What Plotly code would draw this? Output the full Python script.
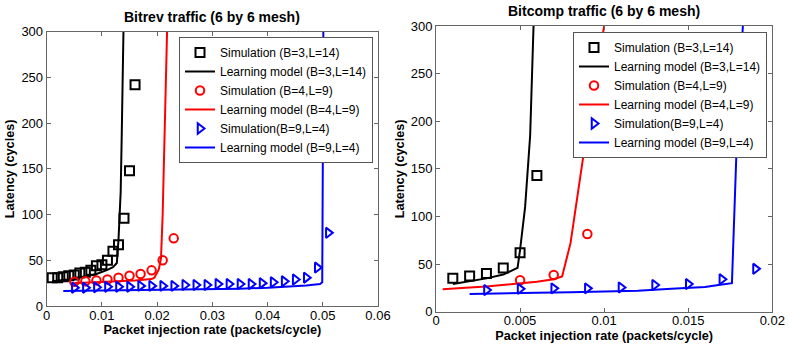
import plotly.graph_objects as go

# ---------------- Bitrev traffic (left) ----------------
bitrev_sim_b3_x = [0.001, 0.002, 0.003, 0.004, 0.005, 0.006, 0.007, 0.008, 0.009, 0.010, 0.011, 0.012, 0.013, 0.014, 0.015, 0.016]
bitrev_sim_b3_y = [31, 31, 32, 33, 34, 36, 37, 39, 44, 45, 50, 60, 67, 96, 148, 242]
bitrev_mod_b3_x = [0.001, 0.002, 0.003, 0.004, 0.005, 0.006, 0.007, 0.008, 0.009, 0.010, 0.011, 0.012, 0.0127, 0.0130, 0.0134, 0.0136, 0.0139]
bitrev_mod_b3_y = [27, 28, 28.5, 29, 30, 31, 32, 33.5, 35, 37, 39.5, 42.5, 47, 72, 125, 190, 300]

bitrev_sim_b4_x = [0.005, 0.007, 0.009, 0.011, 0.013, 0.015, 0.017, 0.019, 0.021, 0.023, 0.025]
bitrev_sim_b4_y = [26.5, 27, 28, 29, 31, 33, 35, 39, 50, 74, 231]
bitrev_mod_b4_x = [0.0045, 0.007, 0.010, 0.013, 0.016, 0.019, 0.0195, 0.0203, 0.0207, 0.0210, 0.0214, 0.0218]
bitrev_mod_b4_y = [25, 25.5, 26, 27, 28, 29.5, 31, 40, 52, 100, 200, 300]

bitrev_sim_b9_x = [0.005, 0.007, 0.009, 0.011, 0.013, 0.015, 0.017, 0.019, 0.021, 0.023, 0.025, 0.027,
                   0.029, 0.031, 0.033, 0.035, 0.037, 0.039, 0.041, 0.043, 0.045, 0.047, 0.049, 0.051]
bitrev_sim_b9_y = [20, 20, 20.5, 21, 21, 21, 22, 22, 22, 22, 23, 23,
                   23, 24, 24, 24, 24, 25, 26, 27, 29, 31, 42, 80]
bitrev_mod_b9_x = [0.003, 0.010, 0.020, 0.030, 0.035, 0.040, 0.043, 0.047, 0.0495, 0.0499, 0.0500, 0.0501]
bitrev_mod_b9_y = [16.5, 17, 18, 18.5, 19, 20, 21, 22.5, 24, 26, 150, 300]

# ---------------- Bitcomp traffic (right) ----------------
bitcomp_sim_b3_x = [0.001, 0.002, 0.003, 0.004, 0.005, 0.006]
bitcomp_sim_b3_y = [35, 37.5, 40, 46, 62, 143]
bitcomp_mod_b3_x = [0.001, 0.002, 0.003, 0.004, 0.00485, 0.0050, 0.0053, 0.0056, 0.0058]
bitcomp_mod_b3_y = [29, 32, 35, 39, 46, 65, 110, 185, 300]

bitcomp_sim_b4_x = [0.005, 0.007, 0.009]
bitcomp_sim_b4_y = [33, 38.5, 81.5]
bitcomp_mod_b4_x = [0.0004, 0.001, 0.002, 0.003, 0.004, 0.005, 0.006, 0.007, 0.0075, 0.008, 0.0089, 0.0100]
bitcomp_mod_b4_y = [23.5, 24, 25.5, 26.5, 28, 29.5, 31.5, 34, 37, 72, 180, 300]

bitcomp_sim_b9_x = [0.003, 0.005, 0.007, 0.009, 0.011, 0.013, 0.015, 0.017, 0.019]
bitcomp_sim_b9_y = [22.7, 24, 24.5, 24.5, 25.5, 28, 29, 34, 45]
bitcomp_mod_b9_x = [0.002, 0.004, 0.006, 0.008, 0.010, 0.012, 0.014, 0.016, 0.0168, 0.0176, 0.0179, 0.01825]
bitcomp_mod_b9_y = [18.5, 19.5, 20, 20.5, 21, 22, 24, 26, 28, 30, 184, 300]

names = ["Simulation (B=3,L=14)", "Learning model (B=3,L=14)",
         "Simulation (B=4,L=9)", "Learning model (B=4,L=9)",
         "Simulation(B=9,L=4)", "Learning model (B=9,L=4)"]
colors = ["#000000", "#ff0000", "#0000ff"]
symbols = ["square-open", "circle-open", "triangle-right-open"]
msizes = [9, 8.5, 9]

FONT = "Liberation Sans, Arial, sans-serif"

fig = go.Figure()

panels = [
    ("x", "y", "legend",
     [(bitrev_sim_b3_x, bitrev_sim_b3_y, bitrev_mod_b3_x, bitrev_mod_b3_y),
      (bitrev_sim_b4_x, bitrev_sim_b4_y, bitrev_mod_b4_x, bitrev_mod_b4_y),
      (bitrev_sim_b9_x, bitrev_sim_b9_y, bitrev_mod_b9_x, bitrev_mod_b9_y)]),
    ("x2", "y2", "legend2",
     [(bitcomp_sim_b3_x, bitcomp_sim_b3_y, bitcomp_mod_b3_x, bitcomp_mod_b3_y),
      (bitcomp_sim_b4_x, bitcomp_sim_b4_y, bitcomp_mod_b4_x, bitcomp_mod_b4_y),
      (bitcomp_sim_b9_x, bitcomp_sim_b9_y, bitcomp_mod_b9_x, bitcomp_mod_b9_y)]),
]

for xa, ya, leg, series in panels:
    for i, (sx, sy, mx, my) in enumerate(series):
        fig.add_trace(go.Scatter(
            x=sx, y=sy, mode="markers", name=names[2 * i], xaxis=xa, yaxis=ya, legend=leg,
            marker=dict(symbol=symbols[i], size=msizes[i], color=colors[i],
                        line=dict(width=2, color=colors[i])),
            cliponaxis=True))
        fig.add_trace(go.Scatter(
            x=mx, y=my, mode="lines", name=names[2 * i + 1], xaxis=xa, yaxis=ya, legend=leg,
            line=dict(color=colors[i], width=2), cliponaxis=True))

W, H = 789, 352
def fx(px):
    return px / W
def fy(py):
    return 1 - py / H

axis_common = dict(
    showline=True, linecolor="#666666", linewidth=1, mirror="ticks",
    ticks="inside", ticklen=4, tickcolor="#666666", showgrid=False, zeroline=False,
    tickfont=dict(family=FONT, size=13, color="#000000"),
    title_font=dict(family=FONT, size=12.7, color="#000000"),
    automargin=False,
)

fig.update_layout(
    width=W, height=H,
    margin=dict(l=0, r=0, t=0, b=0),
    paper_bgcolor="white", plot_bgcolor="white",
    font=dict(family=FONT, size=13, color="#000000"),
    showlegend=True,
    xaxis=dict(domain=[fx(46.7), fx(378)], range=[0, 0.06], dtick=0.01, anchor="y", ticklabelstandoff=-3,
               title=dict(text="<b>Packet injection rate (packets/cycle)</b>", standoff=2), **axis_common),
    yaxis=dict(domain=[fy(306), fy(31.7)], range=[0, 300], dtick=50, anchor="x",
               title=dict(text="<b>Latency (cycles)</b>", standoff=3), **axis_common),
    xaxis2=dict(domain=[fx(436), fx(772.3)], range=[0, 0.02], dtick=0.005, anchor="y2", ticklabelstandoff=-3,
                title=dict(text="<b>Packet injection rate (packets/cycle)</b>", standoff=3), **axis_common),
    yaxis2=dict(domain=[fy(311.7), fy(26)], range=[0, 300], dtick=50, anchor="x2",
                title=dict(text="<b>Latency (cycles)</b>", standoff=3), **axis_common),
    legend=dict(x=fx(373), y=fy(37), xanchor="right", yanchor="top",
                bgcolor="white", bordercolor="#555555", borderwidth=1,
                font=dict(family=FONT, size=12, color="#000000"), itemwidth=30),
    legend2=dict(x=fx(767), y=fy(32), xanchor="right", yanchor="top",
                 bgcolor="white", bordercolor="#555555", borderwidth=1,
                 font=dict(family=FONT, size=12, color="#000000"), itemwidth=30),
    annotations=[
        dict(text="<b>Bitrev traffic (6 by 6 mesh)</b>", x=fx(212), y=fy(17.5), xref="paper", yref="paper",
             xanchor="center", yanchor="middle", showarrow=False, font=dict(family=FONT, size=14, color="#000000")),
        dict(text="<b>Bitcomp traffic (6 by 6 mesh)</b>", x=fx(604), y=fy(11), xref="paper", yref="paper",
             xanchor="center", yanchor="middle", showarrow=False, font=dict(family=FONT, size=14, color="#000000")),
    ],
)

fig.write_html("out.html", config={"displayModeBar": False},
               post_script="document.body.style.margin='0';document.body.style.overflow='hidden';")
